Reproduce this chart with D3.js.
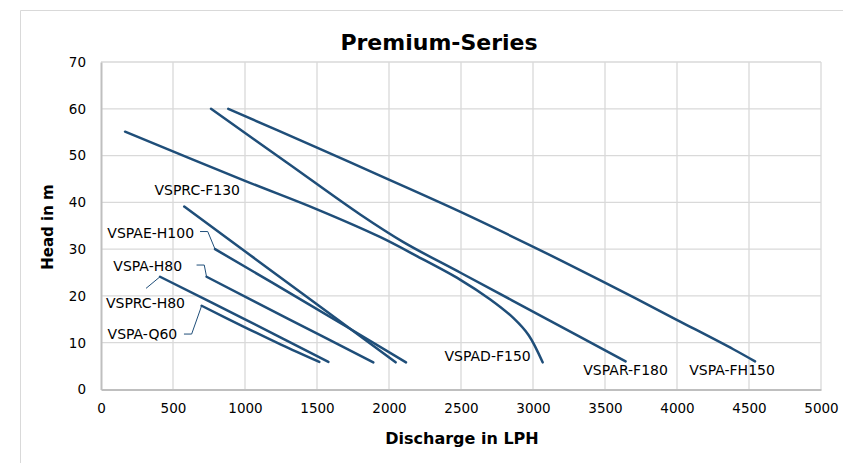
<!DOCTYPE html>
<html>
<head>
<meta charset="utf-8">
<script src="https://cdn.jsdelivr.net/npm/d3@7"></script>
<style>
  body { margin: 0; background: #fff; }
  text { font-family: "DejaVu Sans", Verdana, sans-serif; fill: #000; }
</style>
</head>
<body>
<div id="chart"></div>
<script>
/* Premium-Series pump curves: head vs discharge */

// tick values
const xTicks = [0, 500, 1000, 1500, 2000, 2500, 3000, 3500, 4000, 4500, 5000];
const yTicks = [0, 10, 20, 30, 40, 50, 60, 70];

// series names
const names = ["VSPA-FH150", "VSPAR-F180", "VSPAD-F150", "VSPRC-F130",
               "VSPAE-H100", "VSPA-H80", "VSPRC-H80", "VSPA-Q60"];

// [discharge LPH, head m]
const fh150 = [[884, 60], [1500, 51.7], [1937, 45.7], [2493, 38.0], [3002, 30.5], [3465, 23.4], [3998, 14.9], [4391, 8.6], [4542, 6]];
const f180 = [[764, 60], [1300, 48.3], [1800, 37.4], [2100, 31.5], [2500, 24.9], [3100, 15.0], [3643, 6]];
const f150 = [[167, 55.1], [1000, 44.6], [1500, 38.5], [1937, 32.6], [2200, 28.4], [2493, 23.5], [2701, 19.3], [2863, 15.3], [2970, 11.6], [3067, 5.8]];
const f130 = [[578, 39.1], [1081, 27.7], [2046, 5.8]];
const h100 = [[792, 30], [1450, 18.1], [2118, 5.8]];
const h80 = [[733, 24.1], [1300, 15.1], [1891, 5.8]];
const rch80 = [[410, 24.1], [1000, 15.0], [1579, 5.9]];
const q60 = [[699, 17.9], [1000, 13.3], [1250, 9.6], [1516, 5.9]];

const series = [fh150, f180, f150, f130, h100, h80, rch80, q60];

const width = 843, height = 463;
const margin = {top: 62, right: 22, bottom: 73.5, left: 101};

const svg = d3.select("#chart")
    .append("svg")
    .attr("width", width)
    .attr("height", height);

// outer chart border
svg.append("path")
    .attr("d", `M20.5,${height}V10.5H${width}`)
    .attr("fill", "none")
    .attr("stroke", "#d9d9d9");

const x = d3.scaleLinear()
    .domain([0, 5000])
    .range([margin.left, width - margin.right]);

const y = d3.scaleLinear()
    .domain([0, 70])
    .range([height - margin.bottom, margin.top]);

// gridlines
svg.append("g")
    .selectAll("line")
    .data(xTicks.slice(1))
    .join("line")
    .attr("x1", d => x(d)).attr("x2", d => x(d))
    .attr("y1", y(0)).attr("y2", y(70))
    .attr("stroke", "#d9d9d9").attr("stroke-width", 1.3);

svg.append("g")
    .selectAll("line")
    .data(yTicks.slice(1))
    .join("line")
    .attr("x1", x(0)).attr("x2", x(5000))
    .attr("y1", d => y(d)).attr("y2", d => y(d))
    .attr("stroke", "#d9d9d9").attr("stroke-width", 1.3);

// axes
const xAxis = g => g
    .attr("transform", `translate(0,${y(0)})`)
    .call(d3.axisBottom(x).tickValues(xTicks).tickFormat(d3.format("d")).tickSize(0).tickPadding(14))
    .call(g => g.select(".domain").attr("stroke", "#bfbfbf").attr("stroke-width", 2));

const yAxis = g => g
    .attr("transform", `translate(${x(0)},0)`)
    .call(d3.axisLeft(y).tickValues(yTicks).tickFormat(d3.format("d")).tickSize(0).tickPadding(15))
    .call(g => g.select(".domain").attr("stroke", "#bfbfbf").attr("stroke-width", 2));

svg.append("g").call(xAxis);
svg.append("g").call(yAxis);
svg.selectAll(".tick text")
    .attr("font-family", "DejaVu Sans")
    .attr("font-size", 13.5)
    .attr("fill", "#000");

// curves
const line = d3.line()
    .x(d => x(d[0]))
    .y(d => y(d[1]))
    .curve(d3.curveCatmullRom.alpha(0.5));

svg.append("g")
    .selectAll("path")
    .data(series)
    .join("path")
    .attr("d", line)
    .attr("fill", "none")
    .attr("stroke", "#1f4e79")
    .attr("stroke-width", 2.5)
    .attr("stroke-linecap", "round");

// data labels: anchor at first or last point, offsets in px, optional leader
const labels = [
    {i: 0, end: true, dx: -23, dy: 9, anchor: "middle"},
    {i: 1, end: true, dx: 0, dy: 8.5, anchor: "middle"},
    {i: 2, end: true, dx: -55, dy: -6, anchor: "middle"},
    {i: 3, end: false, dx: 13, dy: -17, anchor: "middle"},
    {i: 4, end: false, dx: -21, dy: -16.5, anchor: "end", leader: [[-15, -17.6], [-7.3, -17.6], [0, 0]]},
    {i: 5, end: false, dx: -24.5, dy: -10.7, anchor: "end", leader: [[-10, -11.7], [-2.3, -11.7], [0, 0]]},
    {i: 6, end: false, dx: 25, dy: 26, anchor: "end", leader: [[-14, 11.6], [0, 0]]},
    {i: 7, end: false, dx: -24.4, dy: 28.3, anchor: "end", leader: [[-17.7, 28.3], [-10, 28.3], [0, 0]]}
];

const lab = svg.append("g");
for (let l of labels) {
    const s = series[l.i];
    const p = l.end ? s[s.length - 1] : s[0];
    const px = x(p[0]), py = y(p[1]);
    lab.append("text")
        .attr("x", px + l.dx)
        .attr("y", py + l.dy)
        .attr("text-anchor", l.anchor)
        .attr("dominant-baseline", "central")
        .attr("font-size", 14)
        .text(names[l.i]);
    if (l.leader) {
        lab.append("path")
            .attr("d", d3.line()(l.leader.map(q => [px + q[0], py + q[1]])))
            .attr("fill", "none")
            .attr("stroke", "#1f4e79")
            .attr("stroke-width", 1);
    }
}

// titles
svg.append("text")
    .attr("x", 439)
    .attr("y", 42)
    .attr("text-anchor", "middle")
    .attr("dominant-baseline", "central")
    .attr("font-size", 22)
    .attr("font-weight", "bold")
    .text("Premium-Series");

svg.append("text")
    .attr("x", 462)
    .attr("y", 438)
    .attr("text-anchor", "middle")
    .attr("dominant-baseline", "central")
    .attr("font-size", 16)
    .attr("font-weight", "bold")
    .text("Discharge in LPH");

svg.append("text")
    .attr("transform", "translate(48,227) rotate(-90)")
    .attr("text-anchor", "middle")
    .attr("dominant-baseline", "central")
    .attr("font-size", 15)
    .attr("font-weight", "bold")
    .text("Head in m");
</script>
</body>
</html>
